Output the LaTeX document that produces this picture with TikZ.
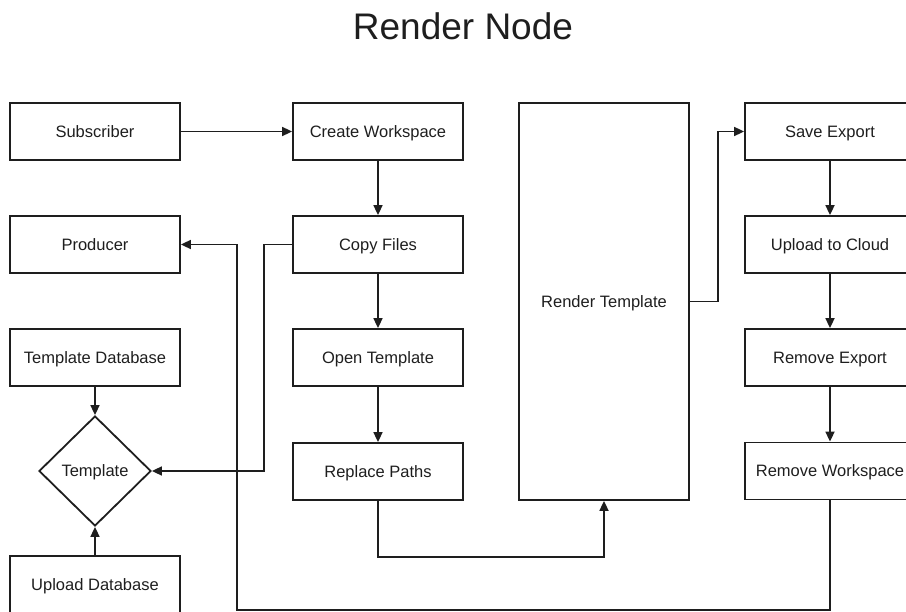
\documentclass[tikz,border=0pt]{standalone}
\usepackage{fontspec}
\setmainfont{Liberation Sans}
\usetikzlibrary{shapes.geometric,arrows.meta}
\definecolor{ink}{RGB}{30,30,30}
\tikzset{
  lbl/.style={font=\fontsize{16.5}{18}\selectfont, text=ink, text height=15pt, text depth=3.5pt},
  box/.style={lbl, draw=ink, line width=1.8pt, rectangle, minimum width=170pt, minimum height=57pt, inner sep=0pt},
  arr/.style={draw=ink, line width=1.7pt, -{Triangle[length=10pt,width=9pt]}},
}
\begin{document}
\begin{tikzpicture}[x=1pt,y=-1pt]
\useasboundingbox (0,0) rectangle (906,612);
\node[font=\fontsize{37}{40}\selectfont, text=ink] (title) at (463,26) {Render Node};
% left column
\node[box] (sub) at (95,131.5) {Subscriber};
\node[box] (prod) at (95,244.5) {Producer};
\node[box] (tdb) at (95,357.5) {Template Database};
\node[draw=ink, line width=1.8pt, diamond, minimum width=112pt, minimum height=110pt, inner sep=0pt, label={[lbl]center:Template}] (tpl) at (95,471) {};
\node[box] (udb) at (95,584.5) {Upload Database};
% middle column
\node[box] (cw) at (378,131.5) {Create Workspace};
\node[box] (cf) at (378,244.5) {Copy Files};
\node[box] (ot) at (378,357.5) {Open Template};
\node[box] (rp) at (378,471.5) {Replace Paths};
% render
\node[box, minimum height=397pt] (rt) at (604,301.5) {Render Template};
% right column
\node[box] (se) at (830,131.5) {Save Export};
\node[box] (uc) at (830,244.5) {Upload to Cloud};
\node[box] (re) at (830,357.5) {Remove Export};
\node[box] (rw) at (830,471) {Remove Workspace};
\coordinate (low) at (237,610);
% connectors
\draw[arr] (sub) -- (cw);
\draw[arr] (cw) -- (cf);
\draw[arr] (cf.west) -- ++(-28,0) |- (tpl.east);
\draw[arr] (cf) -- (ot);
\draw[arr] (ot) -- (rp);
\draw[arr] (rp.south) -- ++(0,56) -| (rt.south);
\draw[arr] (rt.east) -- ++(28,0) |- (se.west);
\draw[arr] (se) -- (uc);
\draw[arr] (uc) -- (re);
\draw[arr] (re) -- (rw);
\draw[arr] (rw.south) |- (low) |- (prod.east);
\draw[arr] (tdb) -- (tpl);
\draw[arr] (udb) -- (tpl);
\end{tikzpicture}
\end{document}
